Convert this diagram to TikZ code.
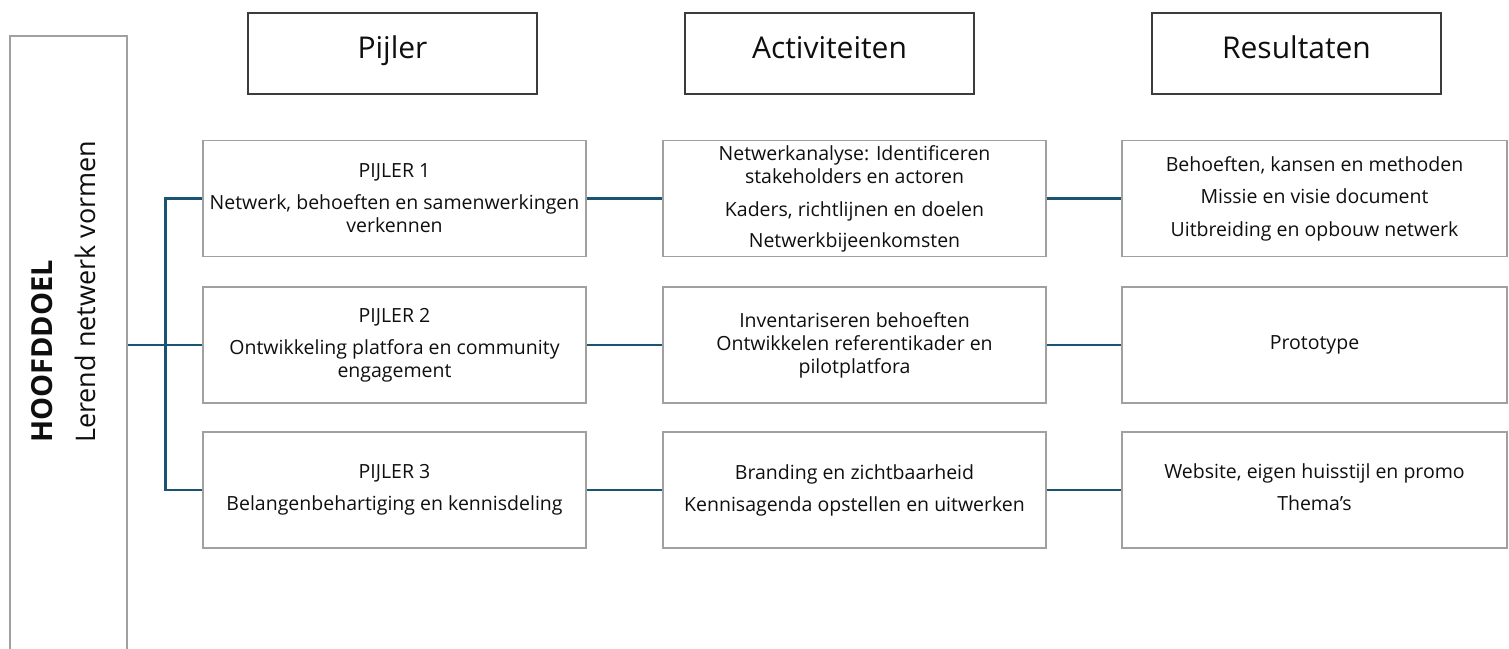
\documentclass[tikz,border=0pt]{standalone}
\usepackage{fontspec}
\setmainfont{Open Sans}
\usetikzlibrary{calc}
\definecolor{conncol}{RGB}{27,84,114}
\definecolor{boxgray}{RGB}{160,160,160}
\definecolor{hdrgray}{RGB}{60,60,60}
\definecolor{txt}{RGB}{15,15,15}
\tikzset{
  rowbox/.style={draw=boxgray, line width=1.4pt, minimum width=383pt, minimum height=116pt, inner sep=0pt, align=center, text=txt, font=\fontsize{19.5}{23}\selectfont},
  hdrbox/.style={draw=hdrgray, line width=1.4pt, minimum width=289pt, minimum height=81pt, inner sep=0pt, text=txt, font=\fontsize{30}{34}\selectfont},
  conn/.style={draw=conncol, line width=2.5pt},
}
\begin{document}
\begin{tikzpicture}[x=1pt,y=-1pt]
\useasboundingbox (0,0) rectangle (1509,648);
\clip (0,0) rectangle (1509,648);
% main goal box
\node[draw=boxgray, line width=1.4pt, minimum width=117pt, minimum height=640pt, inner sep=0pt] (goal) at (68.5,356) {};
\node[rotate=90, anchor=north west, align=left, inner sep=0pt, text=txt, font=\fontsize{27}{43}\selectfont] (goaltext) at (31,443) {{\fontsize{29}{43}\selectfont\textbf{HOOFDDOEL}}\\Lerend netwerk vormen};
% headers
\node[hdrbox] (h1) at (392.5,53.5) {\raisebox{12pt}{Pijler}};
\node[hdrbox] (h2) at (829.5,53.5) {\raisebox{12pt}{Activiteiten}};
\node[hdrbox] (h3) at (1296.5,53.5) {\raisebox{12pt}{Resultaten}};
% row 1
\node[rowbox] (p1) at (394.5,198.5) {PIJLER 1\\[9pt]Netwerk, behoeften en samenwerkingen\\verkennen};
\node[rowbox] (a1) at (854.5,198.5) {Netwerkanalyse: Identificeren\\stakeholders en actoren\\[10pt]Kaders, richtlijnen en doelen\\[8pt]Netwerkbijeenkomsten};
\node[rowbox, minimum width=385pt] (r1) at (1314.5,198.5) {Behoeften, kansen en methoden\\[9pt]Missie en visie document\\[10pt]Uitbreiding en opbouw netwerk};
% row 2
\node[rowbox] (p2) at (394.5,345) {PIJLER 2\\[9pt]Ontwikkeling platfora en community\\engagement};
\node[rowbox] (a2) at (854.5,345) {Inventariseren behoeften\\Ontwikkelen referentikader en\\pilotplatfora};
\node[rowbox, minimum width=385pt] (r2) at (1314.5,345) {Prototype};
% row 3
\node[rowbox] (p3) at (394.5,490) {PIJLER 3\\[9pt]Belangenbehartiging en kennisdeling};
\node[rowbox] (a3) at (854.5,490) {Branding en zichtbaarheid\\[9pt]Kennisagenda opstellen en uitwerken};
\node[rowbox, minimum width=385pt] (r3) at (1314.5,490) {\raisebox{13pt}{\begin{tabular}{@{}c@{}}Website, eigen huisstijl en promo\\[9pt]Thema's\end{tabular}}};
% connectors
\draw[conn] (goal.east |- p2.west) -- (p2.west);
\draw[conn] (p1.west) -- ++(-37,0) |- (p3.west);
\draw[conn] (p1.east) -- (a1.west);
\draw[conn] (a1.east) -- (r1.west);
\draw[conn] (p2.east) -- (a2.west);
\draw[conn] (a2.east) -- (r2.west);
\draw[conn] (p3.east) -- (a3.west);
\draw[conn] (a3.east) -- (r3.west);
\end{tikzpicture}
\end{document}
